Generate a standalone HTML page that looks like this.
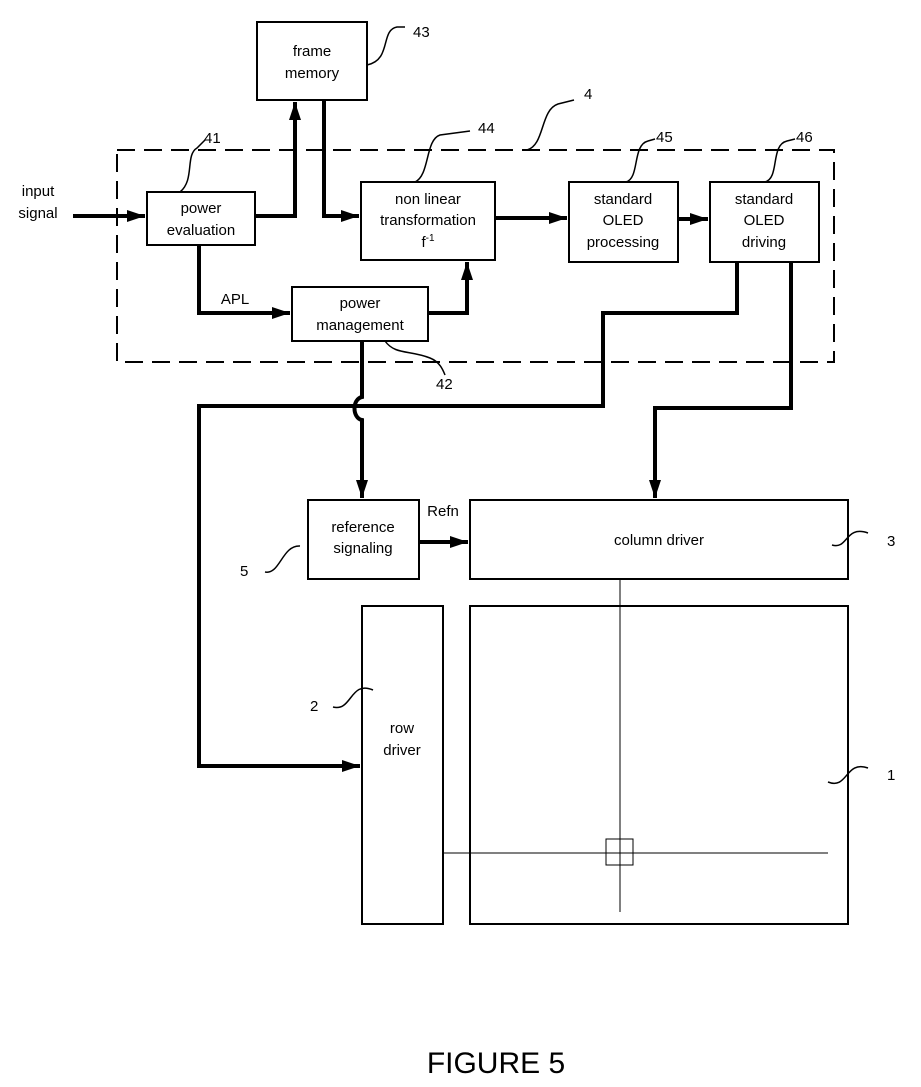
<!DOCTYPE html>
<html><head><meta charset="utf-8"><style>
html,body{margin:0;padding:0;background:#fff;}
svg{display:block;}
text{font-family:"Liberation Sans",Arial,sans-serif;fill:#000;}
</style></head><body>
<svg width="921" height="1087" viewBox="0 0 921 1087" xmlns="http://www.w3.org/2000/svg">
<defs>
<marker id="a" markerWidth="10" markerHeight="8" refX="10" refY="4" orient="auto" markerUnits="userSpaceOnUse" viewBox="0 0 10 8">
<path d="M0,0 L10,4 L0,8 z" fill="#000"/></marker>
<marker id="b" markerWidth="18" markerHeight="12" refX="18" refY="6" orient="auto" markerUnits="userSpaceOnUse" viewBox="0 0 18 12">
<path d="M0,0 L18,6 L0,12 z" fill="#000"/></marker>
</defs>
<g fill="none" stroke="#000">
<!-- dashed box -->
<rect x="117" y="150" width="717" height="212" stroke-width="2" stroke-dasharray="18,9"/>
<!-- boxes -->
<g stroke-width="2">
<rect x="257" y="22" width="110" height="78"/>
<rect x="147" y="192" width="108" height="53"/>
<rect x="361" y="182" width="134" height="78"/>
<rect x="569" y="182" width="109" height="80"/>
<rect x="710" y="182" width="109" height="80"/>
<rect x="292" y="287" width="136" height="54"/>
<rect x="308" y="500" width="111" height="79"/>
<rect x="470" y="500" width="378" height="79"/>
<rect x="362" y="606" width="81" height="318"/>
<rect x="470" y="606" width="378" height="318"/>
</g>
<!-- thin lines in panel -->
<g stroke-width="1">
<line x1="620" y1="579" x2="620" y2="912"/>
<line x1="443" y1="853" x2="828" y2="853"/>
<rect x="606" y="839" width="27" height="26"/>
</g>
<!-- thick connectors -->
<g stroke-width="4" stroke-linejoin="miter">
<path d="M73,216 H145" marker-end="url(#b)"/>
<path d="M255,216 H295 V102" marker-end="url(#b)"/>
<path d="M324,100 V216 H359" marker-end="url(#b)"/>
<path d="M199,245 V313 H290" marker-end="url(#b)"/>
<path d="M428,313 H467 V262" marker-end="url(#b)"/>
<path d="M495,218 H567" marker-end="url(#b)"/>
<path d="M678,219 H708" marker-end="url(#b)"/>
<path d="M737,262 V313 H603 V406 H199 V766 H360" marker-end="url(#b)"/>
<path d="M791,262 V408 H655 V498" marker-end="url(#b)"/>
<path d="M362,341 V397 C352,399 352,418 362,420 V498" marker-end="url(#b)"/>
<path d="M419,542 H468" marker-end="url(#b)"/>
</g>
<!-- leader squiggles -->
<g stroke-width="1.5">
<path d="M367,65 C392,60 380,30 397,27 L405,27"/>
<path d="M527,150 C545,145 540,110 558,104 L574,100"/>
<path d="M180,192 C195,180 185,155 197,148 L205,140"/>
<path d="M415,182 C430,175 425,140 440,135 L470,131"/>
<path d="M626,182 C640,178 632,145 648,141 L655,139"/>
<path d="M765,182 C780,178 770,145 787,141 L795,139"/>
<path d="M385,341 C395,355 410,350 430,358 C440,362 443,370 445,375"/>
<path d="M265,572 C280,575 282,545 300,546"/>
<path d="M333,707 C352,712 350,680 373,690"/>
<path d="M832,545 C848,550 845,525 868,533"/>
<path d="M828,782 C848,790 845,760 868,768"/>
</g>
</g>
<!-- text -->
<g font-size="15" text-anchor="middle">
<text x="312" y="56">frame</text>
<text x="312" y="78">memory</text>
<text x="201" y="213">power</text>
<text x="201" y="235">evaluation</text>
<text x="428" y="204">non linear</text>
<text x="428" y="225">transformation</text>
<text x="428" y="247">f<tspan font-size="10" dy="-6">-1</tspan></text>
<text x="623" y="204">standard</text>
<text x="623" y="225">OLED</text>
<text x="623" y="247">processing</text>
<text x="764" y="204">standard</text>
<text x="764" y="225">OLED</text>
<text x="764" y="247">driving</text>
<text x="360" y="308">power</text>
<text x="360" y="330">management</text>
<text x="363" y="532">reference</text>
<text x="363" y="553">signaling</text>
<text x="659" y="545">column driver</text>
<text x="402" y="733">row</text>
<text x="402" y="755">driver</text>
<text x="38" y="196">input</text>
<text x="38" y="218">signal</text>
<text x="235" y="304">APL</text>
<text x="443" y="516">Refn</text>
</g>
<g font-size="15">
<text x="413" y="37">43</text>
<text x="584" y="99">4</text>
<text x="204" y="143">41</text>
<text x="478" y="133">44</text>
<text x="656" y="142">45</text>
<text x="796" y="142">46</text>
<text x="436" y="389">42</text>
<text x="240" y="576">5</text>
<text x="310" y="711">2</text>
<text x="887" y="546">3</text>
<text x="887" y="780">1</text>
</g>
<text x="496" y="1073" font-size="30" text-anchor="middle">FIGURE 5</text>
</svg>
</body></html>
